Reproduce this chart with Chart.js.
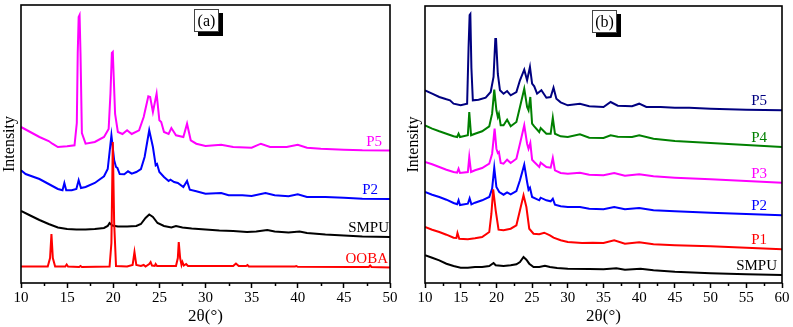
<!DOCTYPE html>
<html lang="en">
<head>
    <meta charset="UTF-8">
    <title>XRD patterns</title>
    <script src="https://cdn.jsdelivr.net/npm/chart.js"></script>
    <style>
        body { margin: 0; background: #fff; }
        .panel { position: absolute; top: 0; }
        #wrapA { left: 0; width: 400px; height: 327px; }
        #wrapB { left: 400px; width: 393px; height: 327px; }
    </style>
</head>
<body>
    <div class="panel" id="wrapA"><canvas id="chartA" width="400" height="327"></canvas></div>
    <div class="panel" id="wrapB"><canvas id="chartB" width="393" height="327"></canvas></div>

    <script>
        // ---- panel (a): [2theta, intensity a.u.] ----
        const oobaA = [[10,16.5],[12.9,16.5],[13.15,25],[13.3,49],[13.45,25],[13.7,16.5],[14.8,16.5],[14.95,18.5],[15.1,16.5],
            [16.3,16],[16.45,17],[16.6,16],[19.6,16.5],[19.8,40],[19.95,141],[20.1,60],[20.3,17],[21.5,16.5],[22.1,18],[22.3,31],
            [22.5,18],[23,17],[23.3,18],[23.5,16.5],[23.9,19],[24.05,21],[24.2,17.5],[24.5,17],[24.6,19],[24.75,17],[26.8,17],
            [27.0,25],[27.1,41],[27.25,25],[27.4,18],[27.5,21],[27.65,17.5],[27.9,19],[28.1,17],[33.0,17],[33.3,19.5],[33.6,17],
            [34.4,17],[34.55,18],[34.7,16.5],[39.7,16.5],[39.85,17],[40,16.2],[45.8,16],[47.7,16],[47.85,17.5],[48,16],[50,15.5]];
        const smpuA = [[10,72],[11,67.5],[12,63],[13,59],[14,55.5],[15,54],[16,53.5],[17,53.5],[18,54],[19,55],[19.4,57],[19.6,60],
            [19.9,57.5],[20.5,56.5],[21.5,56.5],[22.5,57],[23,59],[23.5,65],[23.9,68.5],[24.3,66],[24.8,60],[25.5,57],[26.3,55.5],
            [26.8,57],[27.5,55.5],[28.5,54.5],[30,53.5],[31.5,52.5],[33,52],[34.5,51],[35.5,51.5],[36.7,53],[37.5,51.5],[39,50.5],
            [40.2,51.5],[41,50],[43,48.5],[45,47.5],[47,46.5],[50,46]];
        const p2A = [[10,112.7],[10.5,109],[12,104],[13,99],[14,94],[14.5,92.7],[14.7,100],[14.9,92.7],[15.5,92.7],[16,94],
            [16.25,102.7],[16.5,95],[17,96],[18,100],[19,106.7],[19.4,114],[19.8,147.7],[20.1,122.7],[20.3,116],[20.45,115],
            [20.7,109],[21.2,108.7],[21.6,111.7],[22,109.3],[22.5,111],[23,114],[23.4,126],[23.9,152.7],[24.3,136],[24.6,117.7],
            [24.75,119],[25,111],[25.5,106],[26,102],[26.2,103.3],[26.6,101],[27,100],[27.6,96],[28,102],[28.3,93.3],[29,91.7],
            [30,89.3],[31.7,90],[32.5,87.7],[34,87.7],[35,87],[36.5,90],[37.5,87.7],[39,86.7],[40,88.7],[41,86],[43,86],
            [45,85.3],[47,84.3],[50,84]];
        const p5A = [[10,156],[11,151],[12,146],[13,142],[13.4,139.3],[14,136],[15,136.7],[15.8,137.7],[16.05,160],[16.15,230],
            [16.25,266],[16.35,268],[16.45,230],[16.6,150],[17,139.3],[18,141],[19,146],[19.5,154],[19.7,190],[19.85,230],[19.95,231],
            [20.2,169],[20.5,151],
            [21,149],[21.5,152.7],[22,149],[22.8,152.7],[23.3,166],[23.8,186.7],[24.0,186],[24.3,171],[24.7,189.3],[25.0,162.7],[25.2,161],
            [25.5,151],[26,149],[26.3,155],[26.8,147.7],[27.6,146],[28,159.3],[28.4,142.7],[29,139.3],[30,137],[31.7,138.3],
            [33,136],[35,135.3],[36,139.3],[37,136],[38.8,136],[40,138.3],[41,135.3],[42.5,134.3],[45,133.3],[47,132.7],[50,132.5]];

        // ---- panel (b) ----
        const smpuB = [[10,27.7],[11,25.3],[12,22.7],[13,19.3],[14,17],[15,15.3],[16,15.3],[17,16],[18,16],[19,17],[19.6,20],
            [19.9,17.7],[21,17],[22,17.7],[22.8,18.7],[23.3,21],[23.8,26],[24.2,23.3],[24.6,19.3],[25.2,16],[26,16],[26.8,17.3],
            [27.5,16],[28.5,15],[30,14.3],[33,14],[35,13.7],[36.8,14.7],[38,13.3],[40.2,14.3],[42,12.7],[45,11.3],[50,9.8],
            [55,8.8],[60,8]];
        const p1B = [[10,56],[11,53.3],[12,51],[13,48.3],[14,45.3],[14.4,45],[14.55,50],[14.8,44.3],[16,43.7],[17,44.7],[18,46],
            [19,51],[19.3,69.3],[19.55,93.7],[19.9,72.7],[20.3,53.3],[21,52.7],[22,54.3],[22.8,57.7],[23.3,72.7],[23.8,87.7],
            [24.2,76],[24.6,54.3],[25.2,49.3],[26,48.7],[26.7,50.3],[27.5,47.7],[28,45.3],[29,42.7],[30,41],[32,40],[33.5,40.3],
            [35,40],[36.5,42.7],[38,39.3],[40,40.7],[42,38.7],[45,37.7],[50,36.7],[55,35.3],[60,33.7]];
        const p2B = [[10,91],[11,88.3],[12,86],[13,83.3],[14,80],[14.5,78.7],[14.7,82.7],[14.9,78],[16,79.3],[16.25,84.7],
            [16.5,78.7],[17,80.3],[18,82.7],[19,86],[19.4,94.3],[19.7,115.3],[20.0,96],[20.4,91],[21,88.3],[21.5,90.7],[22,88.7],
            [22.8,92],[23.3,102.7],[23.9,118.3],[24.3,101],[24.5,93.3],[24.7,95.3],[25.0,86],[26,82.7],[26.2,85.3],[27,82.7],
            [27.6,81.7],[27.9,84.3],[28.2,78.3],[29,76.7],[30,76],[31.7,76],[33,74.3],[35,73.7],[36.5,76],[38,73.7],[40,75],
            [42,72.7],[45,71.7],[50,70.3],[55,69],[60,67.7]];
        const p3B = [[10,121],[11,118.7],[12,116],[13,113.3],[14,111],[14.5,110.3],[14.7,114.3],[14.9,110],[16,111],[16.2,126],
            [16.45,111],[17,112.7],[18,115],[19,119.3],[19.4,129.3],[19.75,154.3],[20.0,134.3],[20.2,130],[20.35,131],[20.6,120],
            [21.0,119.3],[21.5,123.3],[22,120],[22.8,124.3],[23.3,139.3],[23.9,157.7],[24.3,139.3],[24.5,134.3],[24.75,140],
            [25.0,123.3],[25.3,121],[26,116],[26.2,120.3],[27,116],[27.6,115.3],[27.9,125],[28.2,112.7],[29,110],[30,109.3],
            [31.7,110.3],[33,108.3],[35,107.7],[36.5,110],[38,107.3],[40,108.7],[42,106.7],[45,105.3],[50,103.7],[55,102],[60,100.3]];
        const p4B = [[10,157.7],[11,154.3],[12,151.7],[13,149.3],[14,146.7],[14.5,146],[14.7,149.3],[14.9,146],[16,147.7],
            [16.2,171],[16.45,147.7],[17,149.3],[18,151.7],[19,156.7],[19.4,169.3],[19.7,193.3],[20.0,172.7],[20.2,166],
            [20.35,169.3],[20.6,157.7],[21.0,157.7],[21.5,163.3],[22,156.7],[22.8,161],[23.3,176],[23.9,194.3],[24.3,176],
            [24.5,172.7],[24.75,186],[25.0,159.3],[25.3,156.7],[26,151],[26.2,155],[27,149.3],[27.6,149.3],[27.9,165.3],
            [28.2,149.3],[29,146.7],[30,146],[31.7,148.7],[33,145.3],[35,145],[36,147.7],[37,146.3],[39,146],[40,147.7],
            [42,144.3],[45,142],[50,140],[55,138],[60,136]];
        const p5B = [[10,192.7],[11,189.3],[12,186],[13,183.7],[13.5,182.7],[14,179.3],[15,177.7],[15.9,179.3],[16.1,235],
            [16.25,268],[16.35,269],[16.5,215],[16.7,182.7],[17.5,183.3],[18.5,185.3],[19.2,191],[19.6,206],[19.85,244],[19.95,244],[20.2,209],
            [20.5,192.7],[21,189.3],[21.5,192],[22,187.7],[22.8,191],[23.3,202.7],[23.9,213.3],[24.3,202.7],[24.7,216],
            [25.0,199.3],[25.3,196.7],[25.7,189.3],[26.3,192.7],[27,185.3],[27.6,186],[28,195.3],[28.4,184.3],[29,180.7],
            [30,177.7],[31.7,179.3],[33,176.7],[35,176],[36,181],[37,177.3],[39,176.7],[40,179.3],[41,176],[43,176],[45,175.3],
            [47,175.3],[50,174.3],[55,173.3],[60,172.7]];

        const FONT = "'Liberation Serif', 'Times New Roman', serif";

        // full box around the plot, plus short minor ticks, panel tag and curve labels
        const decorations = {
            id: 'decorations',
            afterDatasetsDraw(chart, args, opts) {
                const ctx = chart.ctx;
                const a = chart.chartArea;
                const xs = chart.scales.x;
                const ys = chart.scales.y;
                ctx.save();

                // minor ticks
                ctx.strokeStyle = '#000';
                ctx.lineWidth = 1.5;
                for (let v = xs.min + 2.5; v < xs.max; v += 5) {
                    const px = Math.round(xs.getPixelForValue(v)) + 0.5;
                    ctx.beginPath();
                    ctx.moveTo(px, a.bottom);
                    ctx.lineTo(px, a.bottom + 3);
                    ctx.stroke();
                }

                // frame
                ctx.lineWidth = 1.6;
                ctx.strokeRect(a.left, a.top, a.right - a.left, a.bottom - a.top);

                // panel tag with shadow
                const cx = xs.getPixelForValue(opts.tagAt);
                const bx = Math.round(cx - 12), by = a.top + 4, bw = 25, bh = 23;
                ctx.fillStyle = '#000';
                ctx.fillRect(bx + 4, by + 4, bw, bh);
                ctx.fillStyle = '#fff';
                ctx.fillRect(bx, by, bw, bh);
                ctx.lineWidth = 1;
                ctx.strokeStyle = '#444';
                ctx.strokeRect(bx + 0.5, by + 0.5, bw - 1, bh - 1);
                ctx.fillStyle = '#000';
                ctx.font = '16px ' + FONT;
                ctx.textAlign = 'center';
                ctx.textBaseline = 'middle';
                ctx.fillText(opts.tag, bx + bw / 2, by + bh / 2 + 1);

                // curve labels, sitting just above the right end of each curve
                ctx.font = '15px ' + FONT;
                ctx.textAlign = 'right';
                ctx.textBaseline = 'alphabetic';
                chart.data.datasets.forEach(ds => {
                    const last = ds.data[ds.data.length - 1];
                    const py = ys.getPixelForValue(last[1]) - 5;
                    ctx.fillStyle = ds.borderColor;
                    ctx.fillText(ds.label, a.right - ds.labelInset, py);
                });
                ctx.restore();
            }
        };

        function makeChart(id, sets, xMax, yMax, tag, tagAt, pad) {
            return new Chart(document.getElementById(id), {
                type: 'line',
                data: {
                    datasets: sets.map(s => ({
                        label: s.name,
                        data: s.data,
                        borderColor: s.color,
                        labelInset: s.inset,
                        borderWidth: 2,
                        pointRadius: 0,
                        tension: 0,
                        fill: false
                    }))
                },
                options: {
                    responsive: false,
                    animation: false,
                    layout: { padding: pad },
                    plugins: {
                        legend: { display: false },
                        tooltip: { enabled: false },
                        decorations: { tag: tag, tagAt: tagAt }
                    },
                    scales: {
                        x: {
                            type: 'linear',
                            min: 10,
                            max: xMax,
                            border: { display: false },
                            grid: {
                                drawOnChartArea: false,
                                drawTicks: true,
                                tickLength: 5,
                                tickColor: '#000',
                                tickWidth: 1.5
                            },
                            ticks: {
                                stepSize: 5,
                                padding: 1,
                                color: '#000',
                                font: { family: FONT, size: 15 },
                                maxRotation: 0
                            },
                            title: {
                                display: true,
                                text: '2θ(°)',
                                color: '#000',
                                font: { family: FONT, size: 17 },
                                padding: { top: 0, bottom: 0 }
                            },
                            afterFit: s => { s.height = 44; }
                        },
                        y: {
                            min: 0,
                            max: yMax,
                            border: { display: false },
                            grid: { display: false },
                            ticks: { display: false },
                            title: {
                                display: true,
                                text: 'Intensity',
                                color: '#000',
                                font: { family: FONT, size: 16 },
                                padding: 0
                            },
                            afterFit: s => { s.width = 21; }
                        }
                    }
                },
                plugins: [decorations]
            });
        }

        makeChart('chartA', [
            { name: 'OOBA', data: oobaA, color: '#ff0000', inset: 2 },
            { name: 'SMPU', data: smpuA, color: '#000000', inset: 1 },
            { name: 'P2', data: p2A, color: '#0000ff', inset: 12 },
            { name: 'P5', data: p5A, color: '#ff00ff', inset: 8 }
        ], 50, 278, '(a)', 30, { top: 5, right: 10, left: 0, bottom: 0 });

        makeChart('chartB', [
            { name: 'SMPU', data: smpuB, color: '#000000', inset: 5 },
            { name: 'P1', data: p1B, color: '#ff0000', inset: 15 },
            { name: 'P2', data: p2B, color: '#0000ff', inset: 15 },
            { name: 'P3', data: p3B, color: '#ff00ff', inset: 15 },
            { name: 'P4', data: p4B, color: '#008000', inset: 15 },
            { name: 'P5', data: p5B, color: '#000080', inset: 15 }
        ], 60, 277, '(b)', 35, { top: 6, right: 11, left: 4, bottom: 0 });
    </script>
</body>
</html>
